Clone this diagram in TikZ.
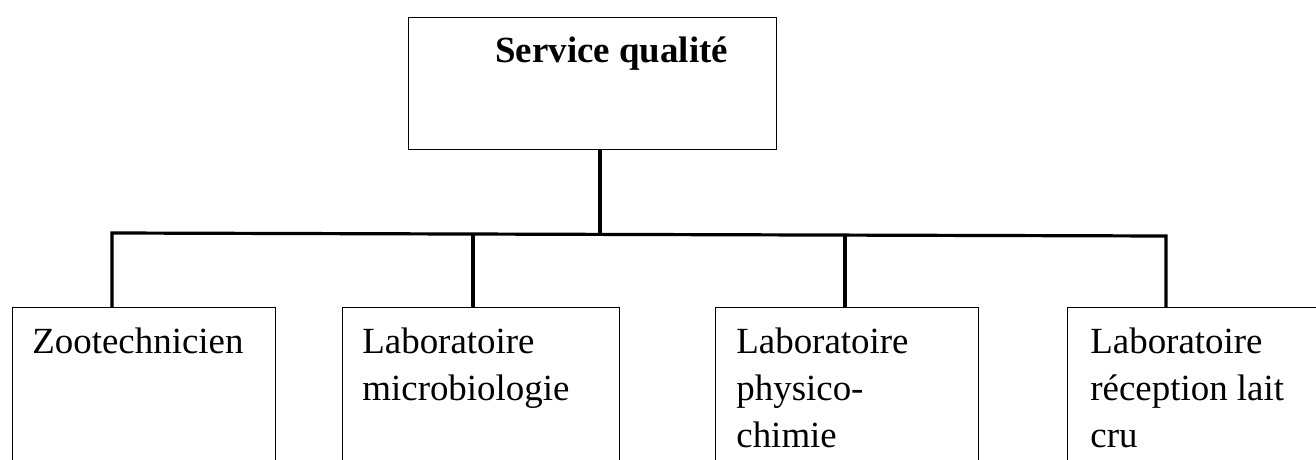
\documentclass[tikz,border=0pt]{standalone}
\usepackage{fontspec}
\setmainfont{Liberation Serif}
\begin{document}
\begin{tikzpicture}[x=0.5pt,y=-0.5pt,
  box/.style={draw, line width=0.6pt, rectangle, inner sep=0pt, anchor=north west},
  lbl/.style={inner sep=0pt, anchor=north west, align=left, font=\fontsize{18.45}{23.5}\selectfont},
  link/.style={line width=1.6pt}]
\useasboundingbox (0,0) rectangle (1316,460);
\clip (0,0) rectangle (1316,460);
% top box
\node[box, minimum width=184pt, minimum height=66pt] (top) at (408,17) {};
\node[inner sep=0pt, anchor=base west, font=\fontsize{18.45}{22}\selectfont\bfseries] (title) at (495,63) {Service qualité};
% lower boxes
\node[box, minimum width=131.5pt, minimum height=86.5pt] (b1) at (12,307) {};
\node[box, minimum width=138.5pt, minimum height=86.5pt] (b2) at (342,307) {};
\node[box, minimum width=131.5pt, minimum height=86.5pt] (b3) at (715,307) {};
\node[box, minimum width=131.5pt, minimum height=86.5pt] (b4) at (1067,307) {};
% labels
\node[lbl] (t1) at (32,323) {\rule{0pt}{15pt}Zootechnicien};
\node[lbl] (t2) at (362,323) {\rule{0pt}{15pt}Laboratoire\\microbiologie};
\node[lbl] (t3) at (736,323) {\rule{0pt}{15pt}Laboratoire\\physico-\\chimie};
\node[lbl] (t4) at (1090,323) {\rule{0pt}{15pt}Laboratoire\\réception lait\\cru};
% connectors
\coordinate (jl) at (112,233);
\coordinate (jr) at (1166,236);
\coordinate (jt) at (600,234);
\coordinate (j2) at (473,234.5);
\coordinate (j3) at (845,235.5);
\draw[link] (jt |- top.south) -- (jt);
\draw[link] (jl |- b1.north) -- (jl) -- (jr) -- (jr |- b4.north);
\draw[link] (j2) -- (j2 |- b2.north);
\draw[link] (j3) -- (j3 |- b3.north);
\end{tikzpicture}
\end{document}
